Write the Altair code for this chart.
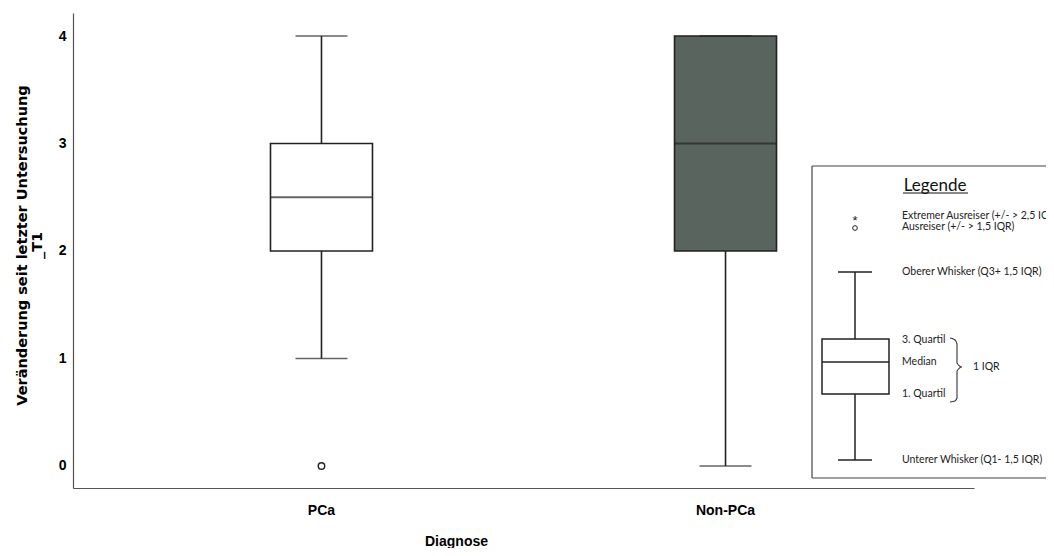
import altair as alt
import pandas as pd

# ---- data ----
categories = ["PCa", "Non-PCa"]
lower_whisker = [1, 0]
q1 = [2, 2]
median = [2.5, 3]
q3 = [3, 4]
upper_whisker = [4, 4]
box_fill = ["#ffffff", "#5a645f"]
outlier_cat = ["PCa"]
outlier_val = [0]

y_ticks = [0, 1, 2, 3, 4]
y_title = ["Veränderung seit letzter Untersuchung", "_T1"]
x_title = "Diagnose"

legend_title = "Legende"
legend_lines = [
    "Extremer Ausreiser (+/- > 2,5 IQR)",
    "Ausreiser (+/- > 1,5 IQR)",
    "Oberer Whisker (Q3+ 1,5 IQR)",
    "3. Quartil",
    "Median",
    "1. Quartil",
    "Unterer Whisker (Q1- 1,5 IQR)",
]
legend_brace_label = "1 IQR"

stats = pd.DataFrame({
    "Diagnose": categories,
    "lo": lower_whisker,
    "q1": q1,
    "med": median,
    "q3": q3,
    "hi": upper_whisker,
})
outliers = pd.DataFrame({"Diagnose": outlier_cat, "v": outlier_val})

W, H = 901, 475
FONT = "Liberation Sans"
LFONT = "Lato"
INK = "#222222"

xs = alt.Scale(domain=categories, paddingInner=0, paddingOuter=0.115)
ys = alt.Scale(domain=[-0.205, 4.214], nice=False, zero=False)

x_axis = alt.Axis(
    title=x_title, labelAngle=0, ticks=False, grid=False,
    labelFont=FONT, labelFontSize=14, labelFontWeight="bold", labelColor="#000",
    labelPadding=15, titleFont=FONT, titleFontSize=14, titleFontWeight="bold",
    titleColor="#000", titleX=383, titleY=53, titleBaseline="middle",
    domainColor="#555", domainWidth=1.2,
)
y_axis = alt.Axis(
    title=y_title, values=y_ticks, ticks=False, grid=False, format="d",
    labelFont=FONT, labelFontSize=14, labelFontWeight="bold", labelColor="#000",
    labelPadding=7, titleFont="DejaVu Sans", titleFontSize=14.5, titleFontWeight="bold",
    titleColor="#000", titleX=-44, titleY=232, titleAlign="center", titleLineHeight=15,
    domainColor="#555", domainWidth=1.2,
)

base = alt.Chart(stats)
X = alt.X("Diagnose:N", scale=xs, axis=x_axis, sort=categories)

whisker = base.mark_rule(color=INK, strokeWidth=1.6).encode(
    x=X, y=alt.Y("lo:Q", scale=ys, axis=y_axis), y2="hi:Q")
box = base.mark_bar(size=102, stroke=INK, strokeWidth=1.6).encode(
    x=X, y=alt.Y("q1:Q", scale=ys), y2="q3:Q",
    fill=alt.Fill("Diagnose:N", scale=alt.Scale(domain=categories, range=box_fill), legend=None))
med = base.mark_tick(size=102, thickness=2, color=INK).encode(
    x=X, y=alt.Y("med:Q", scale=ys))
cap_lo = base.mark_tick(size=52, thickness=1.6, color=INK).encode(
    x=X, y=alt.Y("lo:Q", scale=ys))
cap_hi = base.mark_tick(size=52, thickness=1.6, color=INK).encode(
    x=X, y=alt.Y("hi:Q", scale=ys))
out = alt.Chart(outliers).mark_point(shape="circle", filled=False, size=42,
                                     color=INK, strokeWidth=1.4, opacity=1).encode(
    x=alt.X("Diagnose:N", scale=xs, sort=categories), y=alt.Y("v:Q", scale=ys))

main = alt.layer(whisker, box, med, cap_lo, cap_hi, out)

# ---- legend panel (annotation drawn in pixel space of the plot area) ----
PX = lambda f: alt.X(f, scale=None, axis=None)
PY = lambda f: alt.Y(f, scale=None, axis=None)

frame = pd.DataFrame({
    "x": [739, 739, 739], "x2": [990, 739, 990],
    "y": [153, 153, 465], "y2": [153, 465, 465],
})
frame_l = alt.Chart(frame).mark_rule(color="#444", strokeWidth=1.2).encode(
    x=PX("x:Q"), x2="x2:Q", y=PY("y:Q"), y2="y2:Q")

title_df = pd.DataFrame({"x": [862], "y": [173], "t": [legend_title]})
title_l = alt.Chart(title_df).mark_text(font=LFONT, fontSize=17, color="#111",
                                        align="center", baseline="middle").encode(
    x=PX("x:Q"), y=PY("y:Q"), text="t:N")
uline = pd.DataFrame({"x": [830], "x2": [895], "y": [180]})
uline_l = alt.Chart(uline).mark_rule(color="#111", strokeWidth=1).encode(
    x=PX("x:Q"), x2="x2:Q", y=PY("y:Q"))

lab_df = pd.DataFrame({
    "x": [829] * 7,
    "y": [203, 214, 259, 327, 349, 381, 447],
    "t": legend_lines,
})
lab_l = alt.Chart(lab_df).mark_text(font=LFONT, fontSize=10.5, color="#222",
                                    align="left", baseline="middle").encode(
    x=PX("x:Q"), y=PY("y:Q"), text="t:N")
iqr_df = pd.DataFrame({"x": [900], "y": [354], "t": [legend_brace_label]})
iqr_l = alt.Chart(iqr_df).mark_text(font=LFONT, fontSize=10.5, color="#222",
                                    align="left", baseline="middle").encode(
    x=PX("x:Q"), y=PY("y:Q"), text="t:N")

star_df = pd.DataFrame({"x": [782], "y": [208], "t": ["*"]})
star_l = alt.Chart(star_df).mark_text(font=FONT, fontSize=13, color="#222",
                                      align="center", baseline="middle").encode(
    x=PX("x:Q"), y=PY("y:Q"), text="t:N")
circ_df = pd.DataFrame({"x": [782], "y": [215]})
circ_l = alt.Chart(circ_df).mark_point(shape="circle", filled=False, size=22,
                                       color="#222", strokeWidth=1, opacity=1).encode(
    x=PX("x:Q"), y=PY("y:Q"))

lg_rules = pd.DataFrame({
    "x": [782, 765, 765, 782],
    "x2": [782, 799, 799, 782],
    "y": [259, 259, 447, 381],
    "y2": [326, 259, 447, 447],
})
lg_rules_l = alt.Chart(lg_rules).mark_rule(color=INK, strokeWidth=1.5).encode(
    x=PX("x:Q"), x2="x2:Q", y=PY("y:Q"), y2="y2:Q")
lg_box = pd.DataFrame({"x": [749], "x2": [816], "y": [326], "y2": [381]})
lg_box_l = alt.Chart(lg_box).mark_rect(fill="white", stroke=INK, strokeWidth=1.5).encode(
    x=PX("x:Q"), x2="x2:Q", y=PY("y:Q"), y2="y2:Q")
lg_med = pd.DataFrame({"x": [749], "x2": [816], "y": [349]})
lg_med_l = alt.Chart(lg_med).mark_rule(color=INK, strokeWidth=1.5).encode(
    x=PX("x:Q"), x2="x2:Q", y=PY("y:Q"))

brace = pd.DataFrame({
    "o": [0, 1, 2, 3, 4, 5, 6, 7, 8],
    "x": [877, 882, 884, 884, 889, 884, 884, 882, 877],
    "y": [325, 327, 331, 350, 354, 358, 385, 388, 389],
})
brace_l = alt.Chart(brace).mark_line(color="#333", strokeWidth=1.1, interpolate="monotone").encode(
    x=PX("x:Q"), y=PY("y:Q"), order="o:Q")

legend = alt.layer(frame_l, title_l, uline_l, lab_l, iqr_l, star_l, circ_l,
                   lg_rules_l, lg_box_l, lg_med_l, brace_l)

chart = alt.layer(main, legend).resolve_scale(
    x="independent", y="independent"
).properties(
    width=W, height=H,
    background="white",
    autosize=alt.AutoSizeParams(type="none"),
    padding={"left": 65, "top": 5, "right": 72, "bottom": 60},
).configure_view(stroke=None, strokeWidth=0)

chart.save("out.html", embed_options={"renderer": "svg", "actions": False})
